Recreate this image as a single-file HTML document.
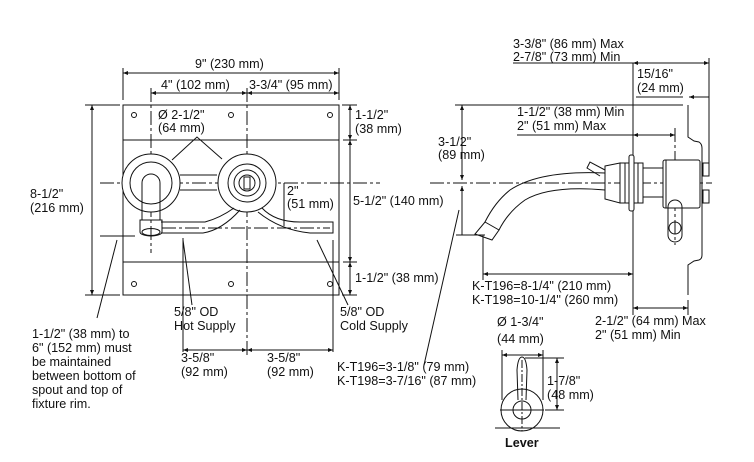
<!DOCTYPE html>
<html><head><meta charset="utf-8"><style>
html,body{margin:0;padding:0;background:#fff}
svg{display:block}
text{font-family:"Liberation Sans",Arial,sans-serif;font-size:12.6px;fill:#111}
</style></head><body>
<svg width="754" height="462" viewBox="0 0 754 462" xmlns="http://www.w3.org/2000/svg">
<defs><marker id="a" viewBox="0 0 10 10" refX="10" refY="5" markerWidth="6" markerHeight="5" orient="auto-start-reverse"><path d="M0,1 L10,5 L0,9 z" fill="#111"/></marker></defs>
<g stroke="#111" stroke-width="1" fill="none">
<!-- plate -->
<rect x="123" y="105" width="216" height="190"/>
<line x1="123" y1="140" x2="339" y2="140"/><line x1="123" y1="262" x2="339" y2="262"/>
<g fill="#fff"><circle cx="134" cy="115" r="2.5"/><circle cx="231" cy="115" r="2.5"/><circle cx="330" cy="115" r="2.5"/>
<circle cx="134" cy="284" r="2.5"/><circle cx="231" cy="284" r="2.5"/><circle cx="330" cy="284" r="2.5"/></g>
<!-- centerlines -->
<line x1="100" y1="183" x2="380" y2="183" stroke-dasharray="14,3,3,3"/>
<line x1="151" y1="88" x2="151" y2="253" stroke-dasharray="14,3,3,3"/>
<line x1="247" y1="88" x2="247" y2="355" stroke-dasharray="14,3,3,3"/>
<!-- left valve -->
<circle cx="151" cy="183" r="29" fill="#fff"/><circle cx="151" cy="183" r="21"/>
<path d="M142,220 L142,183 A9,9 0 0 1 160,183 L160,220"/>
<path d="M140,220 L140,232 A11,4 0 0 0 162,232 L162,220 Z"/><ellipse cx="151" cy="232" rx="9" ry="3.5"/>
<!-- right valve -->
<path d="M180,175 L217,175 M180,190 L217,190"/>
<circle cx="247" cy="183" r="29" fill="#fff"/><circle cx="247" cy="183" r="19"/><circle cx="247" cy="183" r="13"/><circle cx="247" cy="183" r="8"/>
<rect x="244" y="177" width="6" height="12"/>
<!-- pipes -->
<path d="M161,222 L205,222 Q220,218 234,208"/>
<path d="M161,233 L203,233 Q222,230 240,210"/>
<path d="M262,208 Q275,222 300,222 L333,222 L333,233 L310,233 Q280,230 258,212"/>
<line x1="162" y1="228" x2="330" y2="228" stroke-dasharray="14,3,3,3"/>
<!-- leaders -->
<path d="M172,160 L197,137 L222,159"/>
<path d="M284,183 L284,226"/>
<path d="M183,238 L183,352"/><path d="M333,240 L333,352"/>
<path d="M183,240 L192,305"/><path d="M317,240 L348,305"/>
<path d="M100,236 L135,236"/><path d="M117,240 L97,318"/>
<!-- dims left view -->
<line x1="123" y1="68" x2="123" y2="100"/><line x1="339" y1="68" x2="339" y2="100"/>
<line x1="123" y1="73" x2="339" y2="73" marker-start="url(#a)" marker-end="url(#a)"/>
<line x1="151" y1="93" x2="247" y2="93" marker-start="url(#a)" marker-end="url(#a)"/>
<line x1="247" y1="93" x2="339" y2="93" marker-start="url(#a)" marker-end="url(#a)"/>
<line x1="85" y1="105" x2="120" y2="105"/><line x1="85" y1="295" x2="120" y2="295"/>
<line x1="92" y1="105" x2="92" y2="295" marker-start="url(#a)" marker-end="url(#a)"/>
<line x1="342" y1="105" x2="357" y2="105"/><line x1="342" y1="295" x2="357" y2="295"/>
<line x1="343" y1="140" x2="357" y2="140"/><line x1="343" y1="262" x2="357" y2="262"/>
<line x1="350" y1="105" x2="350" y2="140" marker-start="url(#a)" marker-end="url(#a)"/>
<line x1="350" y1="140" x2="350" y2="262" marker-start="url(#a)" marker-end="url(#a)"/>
<line x1="350" y1="262" x2="350" y2="295" marker-start="url(#a)" marker-end="url(#a)"/>
<line x1="183" y1="350" x2="247" y2="350" marker-start="url(#a)" marker-end="url(#a)"/>
<line x1="247" y1="350" x2="333" y2="350" marker-start="url(#a)" marker-end="url(#a)"/>
<!-- side view -->
<line x1="430" y1="183" x2="712" y2="183" stroke-dasharray="14,3,3,3"/>
<line x1="513" y1="63" x2="709" y2="63"/><line x1="709" y1="58" x2="709" y2="165"/>
<line x1="633" y1="63" x2="633" y2="315"/>
<line x1="633" y1="63" x2="709" y2="63" marker-start="url(#a)" marker-end="url(#a)"/>
<line x1="636" y1="97" x2="683" y2="97"/><line x1="689" y1="97" x2="709" y2="97" marker-start="url(#a)"/>
<line x1="455" y1="105" x2="683" y2="105"/>
<line x1="462" y1="105" x2="462" y2="180" marker-start="url(#a)" marker-end="url(#a)"/>
<line x1="462" y1="186" x2="462" y2="235" marker-start="url(#a)"/>
<line x1="456" y1="235" x2="485" y2="235"/>
<line x1="517" y1="135" x2="675" y2="135"/><line x1="633" y1="135" x2="675" y2="135" marker-start="url(#a)" marker-end="url(#a)"/>
<line x1="675" y1="128" x2="675" y2="245" stroke-dasharray="14,3,3,3"/>
<!-- wall plate -->
<path d="M688,105 L688,137 L694,141 L699,142 Q702,144 702,148 L702,255 Q702,259 699,260 L694,261 L688,265 L688,295"/>
<rect x="703" y="163" width="6" height="13"/><rect x="703" y="190" width="6" height="13"/>
<!-- spout body -->
<path d="M605,166 L620,163 L620,203 L605,199 Z"/>
<rect x="620" y="163" width="23" height="40" fill="#fff"/>
<line x1="625" y1="163" x2="625" y2="203"/><line x1="638" y1="163" x2="638" y2="203"/>
<rect x="629" y="155" width="5" height="56" rx="2" fill="#fff"/>
<rect x="643" y="168" width="20" height="29"/>
<rect x="663" y="160" width="37" height="48" rx="2" fill="#fff"/>
<line x1="666" y1="160" x2="666" y2="208"/>
<path d="M605,170 L590,162 L587,168 L600,176"/>
<path d="M605,173 Q540,170 510,190 Q495,202 485,222"/>
<path d="M605,190 Q550,185 525,200 Q508,212 499,230"/>
<path d="M485,222 L499,230 L492,240 L475,234 Z"/>
<path d="M668,207 L668,235 A7,7 0 0 0 682,235 L682,207 A7,7 0 0 0 668,207"/><ellipse cx="675" cy="228" rx="6" ry="6"/>
<line x1="483" y1="235" x2="483" y2="280"/>
<line x1="483" y1="274" x2="633" y2="274" marker-start="url(#a)" marker-end="url(#a)"/>
<line x1="688" y1="300" x2="688" y2="315"/>
<line x1="633" y1="308" x2="688" y2="308" marker-start="url(#a)" marker-end="url(#a)"/>
<path d="M459,210 L424,365"/>
<!-- lever -->
<line x1="502" y1="350" x2="502" y2="400"/><line x1="543" y1="350" x2="543" y2="400"/>
<line x1="502" y1="355" x2="543" y2="355" marker-start="url(#a)" marker-end="url(#a)"/>
<circle cx="522" cy="410" r="21"/><circle cx="522" cy="410" r="9"/>
<path d="M518,400 L517,370 Q518,357 522,357 Q526,357 527,370 L526,400"/>
<line x1="500" y1="410" x2="544" y2="410"/><line x1="522" y1="360" x2="522" y2="431" stroke-dasharray="8,2,2,2"/>
<line x1="495" y1="428" x2="560" y2="428"/>
<line x1="525" y1="358" x2="564" y2="358"/><line x1="545" y1="410" x2="564" y2="410"/>
<line x1="557" y1="358" x2="557" y2="410" marker-start="url(#a)" marker-end="url(#a)"/>
</g>
<text x="195" y="68">9" (230 mm)</text>
<text x="161" y="89">4" (102 mm)</text>
<text x="249" y="89">3-3/4" (95 mm)</text>
<text x="158" y="119">Ø 2-1/2"</text><text x="158" y="132">(64 mm)</text>
<text x="355" y="119">1-1/2"</text><text x="355" y="133">(38 mm)</text>
<text x="30" y="198">8-1/2"</text><text x="30" y="212">(216 mm)</text>
<text x="287" y="195">2"</text><text x="287" y="208">(51 mm)</text>
<text x="353" y="205">5-1/2" (140 mm)</text>
<text x="355" y="282">1-1/2" (38 mm)</text>
<text x="174" y="316">5/8" OD</text><text x="174" y="330">Hot Supply</text>
<text x="340" y="316">5/8" OD</text><text x="340" y="330">Cold Supply</text>
<text x="32" y="338">1-1/2" (38 mm) to</text><text x="32" y="352">6" (152 mm) must</text>
<text x="32" y="366">be maintained</text><text x="32" y="380">between bottom of</text>
<text x="32" y="394">spout and top of</text><text x="32" y="408">fixture rim.</text>
<text x="181" y="362">3-5/8"</text><text x="181" y="376">(92 mm)</text>
<text x="267" y="362">3-5/8"</text><text x="267" y="376">(92 mm)</text>
<text x="513" y="48">3-3/8" (86 mm) Max</text><text x="513" y="61">2-7/8" (73 mm) Min</text>
<text x="637" y="78">15/16"</text><text x="637" y="92">(24 mm)</text>
<text x="517" y="116">1-1/2" (38 mm) Min</text><text x="517" y="130">2" (51 mm) Max</text>
<text x="438" y="146">3-1/2"</text><text x="438" y="159">(89 mm)</text>
<text x="472" y="290">K-T196=8-1/4" (210 mm)</text><text x="472" y="304">K-T198=10-1/4" (260 mm)</text>
<text x="595" y="325">2-1/2" (64 mm) Max</text><text x="595" y="339">2" (51 mm) Min</text>
<text x="497" y="326">Ø 1-3/4"</text><text x="497" y="343">(44 mm)</text>
<text x="547" y="385">1-7/8"</text><text x="547" y="399">(48 mm)</text>
<text x="337" y="371">K-T196=3-1/8" (79 mm)</text><text x="337" y="385">K-T198=3-7/16" (87 mm)</text>
<text x="505" y="447" style="font-weight:bold">Lever</text>
</svg>
</body></html>
